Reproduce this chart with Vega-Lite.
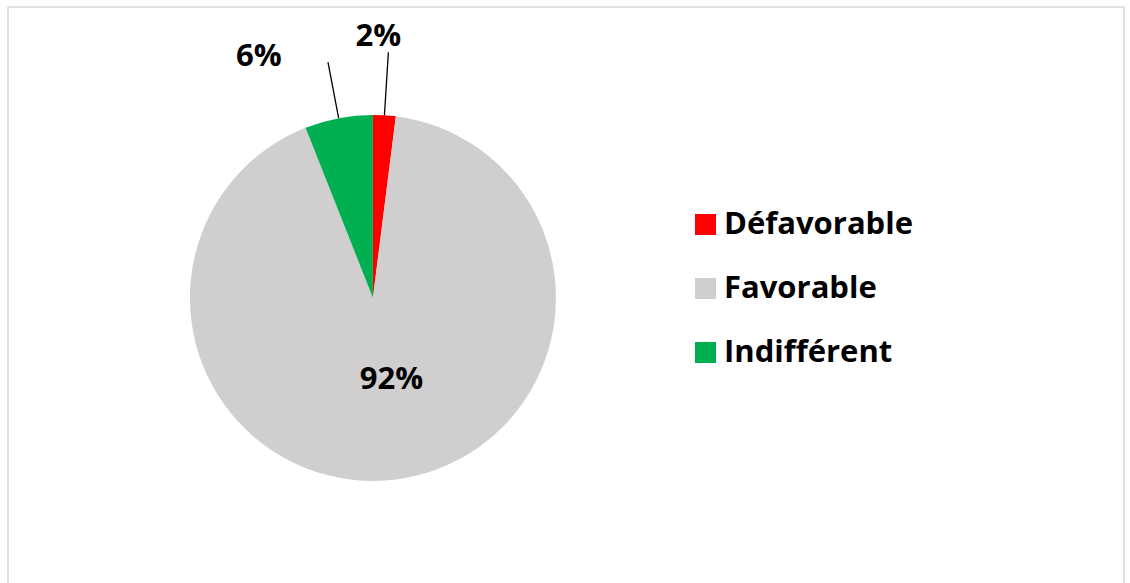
{
  "$schema": "https://vega.github.io/schema/vega-lite/v6.json",
  "width": 1116,
  "height": 576,
  "autosize": {"type": "none"},
  "padding": {"left": 8, "top": 7, "right": 6, "bottom": 0},
  "background": "white",
  "config": {
    "view": {"stroke": null},
    "font": "Open Sans"
  },
  "data": {
    "values": [
      {"category": "Défavorable", "value": 2, "label": "2%"},
      {"category": "Favorable", "value": 92, "label": "92%"},
      {"category": "Indifférent", "value": 6, "label": "6%"}
    ]
  },
  "encoding": {
    "theta": {"field": "value", "type": "quantitative", "stack": true},
    "order": {"field": "category", "sort": "ascending"}
  },
  "layer": [
    {
      "data": {"values": [{"frame": "border"}]},
      "mark": {"type": "rect", "fill": null, "fillOpacity": 0, "stroke": "#d9d9d9", "strokeWidth": 1.5, "y2Offset": 6},
      "encoding": {
        "theta": null,
        "order": null,
        "x": {"value": 0},
        "x2": {"value": "width"},
        "y": {"value": 0},
        "y2": {"value": "height"}
      }
    },
    {
      "mark": {
        "type": "arc",
        "radius": 183,
        "x": {"expr": "width * 0.327"},
        "y": {"expr": "height * 0.505"}
      },
      "encoding": {
        "color": {
          "field": "category",
          "type": "nominal",
          "scale": {
            "domain": ["Défavorable", "Favorable", "Indifférent"],
            "range": ["#ff0000", "#d0cece", "#00b050"]
          },
          "legend": {
            "orient": "none",
            "legendX": 682,
            "legendY": 202,
            "title": null,
            "symbolType": "square",
            "symbolSize": 441,
            "symbolStrokeWidth": 0,
            "labelFont": "Open Sans",
            "labelFontWeight": "bold",
            "labelFontSize": 31,
            "labelColor": "#000000",
            "labelOffset": 3,
            "rowPadding": 32,
            "labelLimit": 400
          }
        }
      }
    },
    {
      "mark": {
        "type": "arc",
        "radius": 246,
        "radius2": 183,
        "padAngle": 1,
        "x": {"expr": "width * 0.327"},
        "y": {"expr": "height * 0.505"},
        "fillOpacity": 0,
        "stroke": "#000000",
        "strokeWidth": 1.3
      },
      "encoding": {
        "strokeOpacity": {"condition": {"test": "datum.category == 'Défavorable'", "value": 1}, "value": 0}
      }
    },
    {
      "mark": {
        "type": "arc",
        "radius": 240,
        "radius2": 183,
        "padAngle": 1,
        "x": {"expr": "width * 0.327"},
        "y": {"expr": "height * 0.505"},
        "fillOpacity": 0,
        "stroke": "#000000",
        "strokeWidth": 1.3
      },
      "encoding": {
        "strokeOpacity": {"condition": {"test": "datum.category == 'Indifférent'", "value": 1}, "value": 0}
      }
    },
    {
      "mark": {
        "type": "text",
        "font": "Open Sans",
        "fontWeight": "bold",
        "fontSize": 31,
        "color": "#000000",
        "align": "center",
        "baseline": "middle",
        "x": {"expr": "width * 0.327"},
        "y": {"expr": "height * 0.505"},
        "radius": {"expr": "datum.category == 'Favorable' ? 84 : (datum.category == 'Défavorable' ? 261 : 262)"},
        "dx": {"expr": "datum.category == 'Favorable' ? 8 : (datum.category == 'Défavorable' ? -11 : -65)"},
        "dy": {"expr": "datum.category == 'Favorable' ? -1 : (datum.category == 'Défavorable' ? 0 : 16)"}
      },
      "encoding": {
        "text": {"field": "label", "type": "nominal"}
      }
    }
  ]
}
